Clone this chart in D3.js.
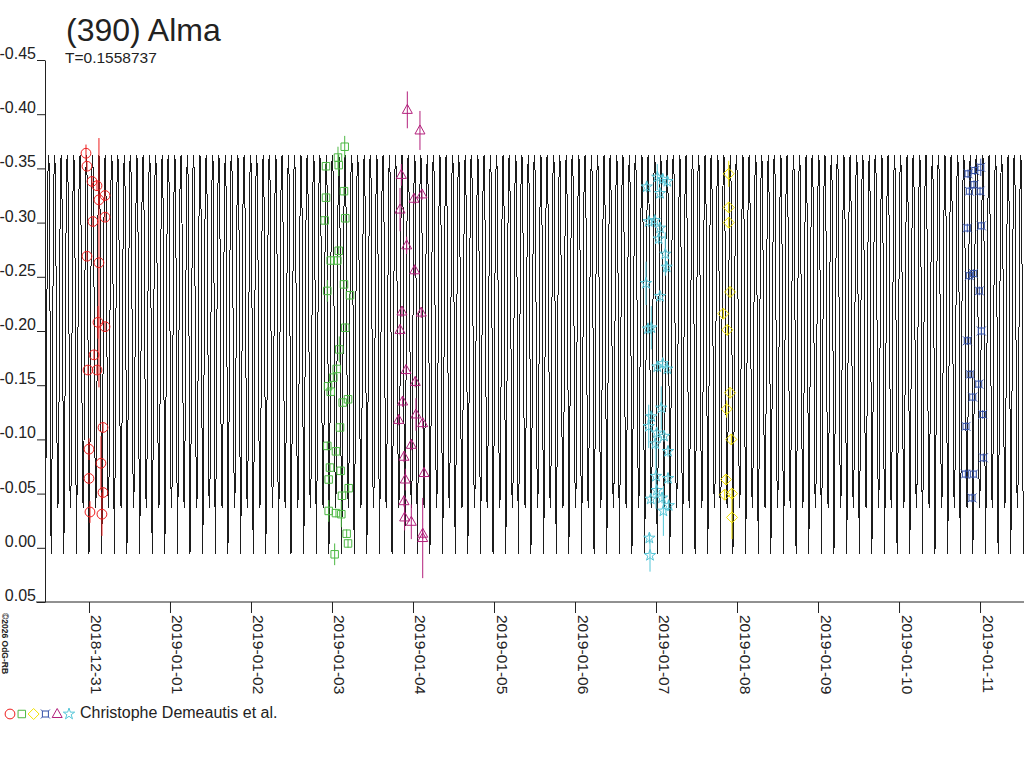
<!DOCTYPE html>
<html>
<head>
<meta charset="utf-8">
<script src="https://cdn.jsdelivr.net/npm/d3@7"></script>
<style>
  body { margin: 0; background: #fff; }
  svg { display: block; font-family: "Liberation Sans", Arial, sans-serif; }
</style>
</head>
<body>
<div class="chart"></div>
<script>
// (390) Alma lightcurve, times are days after 2018-12-31 00:00 UT
const title = "(390) Alma";
const observer = "Christophe Demeautis et al.";
const period = 0.1558737;

// one period of the fitted curve (relative mag), evenly spaced in phase
const profile = [0.006, -0.03, -0.10, -0.19, -0.27, -0.33, -0.358, -0.362, -0.345, -0.29, -0.20, -0.11,
    -0.05, -0.037, -0.06, -0.13, -0.22, -0.30, -0.345, -0.362, -0.355, -0.31, -0.21, -0.09];

const yTicks = [-0.45, -0.40, -0.35, -0.30, -0.25, -0.20, -0.15, -0.10, -0.05, 0.00, 0.05];

// session 1 (red circles)
const redT = [-0.037, -0.025, 0.037, 0.099, 0.198, 0.123, 0.049, 0.198, -0.025, 0.123, 0.111, 0.198,
    0.062, -0.012, 0.099, 0.173, 0.000, 0.148, 0.000, 0.173, 0.012, 0.160];
const redMag = [-0.364, -0.352, -0.338, -0.334, -0.325, -0.321, -0.301, -0.305, -0.269, -0.263, -0.208, -0.204,
    -0.178, -0.164, -0.164, -0.111, -0.091, -0.078, -0.064, -0.051, -0.033, -0.031];
const redErr = [0.008, 0.004, 0.004, 0.004, 0.004, 0.004, 0.004, 0.004, 0.004, 0.115, 0.015, 0.004,
    0.004, 0.004, 0.004, 0.004, 0.010, 0.025, 0.004, 0.004, 0.010, 0.020];

// session 2 (green squares)
const greenT = [3.157, 3.074, 2.926, 3.083, 3.148, 2.926, 3.164, 2.910, 3.083, 2.984, 3.065, 3.148,
    2.942, 3.222, 3.164, 3.090, 3.058, 3.016, 2.951, 2.984, 3.132, 3.198, 3.099, 2.942,
    3.049, 2.975, 3.107, 2.959, 3.206, 3.123, 2.959, 3.049, 3.115, 3.181, 3.198, 3.033];
const greenMag = [-0.370, -0.360, -0.352, -0.353, -0.329, -0.323, -0.304, -0.302, -0.274, -0.265, -0.265, -0.243,
    -0.237, -0.233, -0.203, -0.183, -0.165, -0.157, -0.149, -0.144, -0.134, -0.137, -0.111, -0.094,
    -0.089, -0.074, -0.071, -0.063, -0.055, -0.048, -0.034, -0.032, -0.031, -0.013, -0.004, 0.006];
const greenErr = [0.010, 0.010, 0.004, 0.010, 0.004, 0.004, 0.004, 0.004, 0.004, 0.004, 0.004, 0.004,
    0.010, 0.004, 0.004, 0.012, 0.004, 0.004, 0.004, 0.004, 0.004, 0.004, 0.004, 0.004,
    0.004, 0.004, 0.004, 0.004, 0.004, 0.004, 0.010, 0.004, 0.012, 0.004, 0.004, 0.010];

// session 3 (magenta triangles)
const magentaT = [3.930, 4.086, 3.856, 3.840, 4.012, 4.111, 3.922, 4.021, 3.864, 4.102, 3.840, 3.914,
    4.028, 3.872, 4.037, 3.823, 4.120, 3.979, 3.889, 4.136, 3.905, 3.889, 3.897, 3.979, 4.120, 4.120];
const magentaMag = [-0.404, -0.385, -0.344, -0.312, -0.322, -0.326, -0.279, -0.256, -0.218, -0.217, -0.201, -0.164,
    -0.153, -0.135, -0.123, -0.118, -0.115, -0.095, -0.084, -0.069, -0.063, -0.043, -0.028, -0.024, -0.013, -0.009];
const magentaErr = [0.017, 0.018, 0.010, 0.020, 0.005, 0.005, 0.008, 0.005, 0.005, 0.005, 0.005, 0.005,
    0.005, 0.005, 0.015, 0.005, 0.005, 0.005, 0.005, 0.005, 0.010, 0.005, 0.012, 0.016, 0.005, 0.037];

// session 4 (cyan stars)
const cyanT = [6.885, 7.016, 7.083, 7.140, 7.049, 6.910, 6.984, 7.049, 7.033, 7.115, 7.132, 6.877,
    7.049, 6.901, 6.942, 7.016, 7.083, 7.140, 7.065, 6.942, 6.910, 7.009, 7.099, 6.991,
    7.148, 7.000, 7.148, 7.009, 6.935, 7.074, 7.091, 7.157, 6.918, 6.926];
const cyanMag = [-0.333, -0.342, -0.340, -0.338, -0.327, -0.301, -0.302, -0.295, -0.285, -0.271, -0.259, -0.244,
    -0.232, -0.202, -0.203, -0.167, -0.170, -0.165, -0.129, -0.121, -0.112, -0.106, -0.103, -0.096,
    -0.089, -0.066, -0.064, -0.053, -0.045, -0.046, -0.034, -0.039, -0.009, 0.007];
const cyanErr = [0.005, 0.012, 0.005, 0.005, 0.005, 0.005, 0.005, 0.005, 0.005, 0.020, 0.005, 0.020,
    0.005, 0.005, 0.020, 0.005, 0.005, 0.005, 0.020, 0.005, 0.020, 0.005, 0.005, 0.005,
    0.005, 0.030, 0.005, 0.005, 0.005, 0.005, 0.023, 0.005, 0.005, 0.015];

// session 5 (yellow diamonds)
const yellowT = [7.898, 7.898, 7.898, 7.914, 7.831, 7.880, 7.914, 7.873, 7.930, 7.864, 7.848, 7.938, 7.938];
const yellowMag = [-0.345, -0.314, -0.300, -0.236, -0.216, -0.201, -0.143, -0.128, -0.100, -0.063, -0.049, -0.050, -0.028];
const yellowErr = [0.012, 0.005, 0.005, 0.005, 0.005, 0.005, 0.005, 0.008, 0.005, 0.005, 0.005, 0.005, 0.020];

// session 6 (blue)
const blueT = [10.852, 10.935, 11.009, 10.868, 10.926, 11.000, 10.843, 11.016, 10.868, 10.917, 10.991,
    11.016, 10.843, 10.877, 10.984, 10.910, 11.033, 10.827, 11.041, 10.819, 10.917, 10.901];
const blueMag = [-0.345, -0.348, -0.351, -0.329, -0.335, -0.329, -0.295, -0.297, -0.251, -0.253, -0.237,
    -0.200, -0.191, -0.160, -0.151, -0.139, -0.123, -0.112, -0.083, -0.068, -0.068, -0.046];
const blueErr = [0.004, 0.004, 0.008, 0.004, 0.004, 0.004, 0.004, 0.004, 0.004, 0.004, 0.004,
    0.004, 0.004, 0.004, 0.004, 0.004, 0.004, 0.004, 0.004, 0.004, 0.004, 0.004];

// custom outline symbols
const diamond = {
    draw(ctx) {
        ctx.moveTo(0, -5.5); ctx.lineTo(5.5, 0); ctx.lineTo(0, 5.5); ctx.lineTo(-5.5, 0); ctx.closePath();
    }
};
const boxCross = {
    draw(ctx) {
        ctx.moveTo(-3, -3); ctx.lineTo(3, -3); ctx.lineTo(3, 3); ctx.lineTo(-3, 3); ctx.closePath();
        ctx.moveTo(-3, -3); ctx.lineTo(-4.5, -4.5);
        ctx.moveTo(3, -3); ctx.lineTo(4.5, -4.5);
        ctx.moveTo(3, 3); ctx.lineTo(4.5, 4.5);
        ctx.moveTo(-3, 3); ctx.lineTo(-4.5, 4.5);
    }
};
const triangle = {
    draw(ctx) {
        ctx.moveTo(0, -5.5); ctx.lineTo(5, 3.5); ctx.lineTo(-5, 3.5); ctx.closePath();
    }
};

// order = legend order
const series = [
    { t: redT, mag: redMag, err: redErr, color: "#ee1d1d", type: d3.symbolCircle, size: 75 },
    { t: greenT, mag: greenMag, err: greenErr, color: "#4cb843", type: d3.symbolSquare, size: 56 },
    { t: yellowT, mag: yellowMag, err: yellowErr, color: "#f2e200", type: diamond, size: 64 },
    { t: blueT, mag: blueMag, err: blueErr, color: "#3350a8", type: boxCross, size: 64 },
    { t: magentaT, mag: magentaMag, err: magentaErr, color: "#b3207c", type: triangle, size: 64 },
    { t: cyanT, mag: cyanMag, err: cyanErr, color: "#55c6d8", type: d3.symbolStar, size: 40 }
];

const width = 1024, height = 768;
const day0 = Date.UTC(2018, 11, 31);
const toDate = t => new Date(day0 + t * 864e5);

const x = d3.scaleUtc()
    .domain([toDate(-0.543), toDate(11.617)])
    .range([45, 1030]);

// magnitudes: brighter (more negative) on top
const y = d3.scaleLinear()
    .domain([-0.45, 0.05])
    .range([60, 602]);

const svg = d3.select(".chart")
    .append("svg")
    .attr("width", width)
    .attr("height", height);

svg.append("rect").attr("width", width).attr("height", height).attr("fill", "#fff");

svg.append("clipPath").attr("id", "plot")
    .append("rect")
    .attr("x", x.range()[0]).attr("y", 0)
    .attr("width", width - x.range()[0]).attr("height", y.range()[1]);

// model curve: the one-period profile repeated every T
const kStart = Math.floor(-0.6 / period), kEnd = Math.ceil(11.7 / period);
const curve = [];
for (let k = kStart; k <= kEnd; k++) {
    profile.forEach((m, i) => curve.push([(k + i / profile.length) * period, m]));
}

svg.append("path")
    .datum(curve)
    .attr("clip-path", "url(#plot)")
    .attr("fill", "none")
    .attr("stroke", "#1c1c1c")
    .attr("stroke-width", 1)
    .attr("shape-rendering", "crispEdges")
    .attr("d", d3.line().x(d => x(toDate(d[0]))).y(d => y(d[1])));

// error bars then symbols
series.forEach(s => {
    const pts = d3.zip(s.t, s.mag, s.err);
    const g = svg.append("g");
    g.selectAll("line")
        .data(pts)
        .join("line")
        .attr("x1", d => x(toDate(d[0])))
        .attr("x2", d => x(toDate(d[0])))
        .attr("y1", d => y(d[1] - d[2]))
        .attr("y2", d => y(d[1] + d[2]))
        .attr("stroke", s.color)
        .attr("stroke-width", 1);
    g.selectAll("path")
        .data(pts)
        .join("path")
        .attr("d", d3.symbol().type(s.type).size(s.size))
        .attr("transform", d => `translate(${x(toDate(d[0]))},${y(d[1])})`)
        .attr("fill", "none")
        .attr("stroke", s.color)
        .attr("stroke-width", 1);
});

// axes
const fmt = d => d3.format(".2f")(d).replace("\u2212", "-");

const gy = svg.append("g")
    .attr("transform", `translate(${x.range()[0]},0)`)
    .call(d3.axisLeft(y).tickValues(yTicks).tickFormat(fmt).tickSize(8).tickSizeOuter(0));
gy.selectAll("path, line").attr("stroke", "#222");
gy.selectAll("text")
    .attr("x", -9)
    .attr("dy", "-1.5")
    .attr("fill", "#222")
    .style("font-size", "16px")
    .style("font-family", "Liberation Sans, Arial, sans-serif");

const gx = svg.append("g")
    .attr("transform", `translate(0,${y.range()[1]})`)
    .call(d3.axisBottom(x)
        .ticks(d3.utcDay.every(1))
        .tickFormat(d3.utcFormat("%Y-%m-%d"))
        .tickSize(11)
        .tickSizeOuter(0));
gx.select(".domain").remove();
gx.selectAll("line").attr("stroke", "#222");
gx.selectAll("text")
    .attr("x", 0).attr("y", 0).attr("dy", 0)
    .attr("transform", "translate(2,13) rotate(90)")
    .attr("fill", "#222")
    .style("text-anchor", "start")
    .style("font-size", "15.5px")
    .style("font-family", "Liberation Sans, Arial, sans-serif");
gx.append("line")
    .attr("x1", 36).attr("x2", width)
    .attr("stroke", "#222");

// titles
svg.append("text")
    .attr("x", 66).attr("y", 41)
    .attr("fill", "#222")
    .style("font-size", "32px")
    .text(title);

svg.append("text")
    .attr("x", 65).attr("y", 63)
    .attr("fill", "#222")
    .style("font-size", "15.5px")
    .text(`T=${period}`);

svg.append("text")
    .attr("transform", "translate(2,613) rotate(90)")
    .attr("fill", "#222")
    .style("font-size", "8.5px")
    .style("font-weight", "bold")
    .text("\u00a92026 OdG-RB");

// legend
const legend = svg.append("g").attr("transform", "translate(10,714)");
legend.selectAll("path")
    .data(series)
    .join("path")
    .attr("d", s => d3.symbol().type(s.type).size(s.size)())
    .attr("transform", (s, i) => `translate(${i * 11.8},0)`)
    .attr("fill", "none")
    .attr("stroke", s => s.color);

legend.append("text")
    .attr("x", 70).attr("y", 4)
    .attr("fill", "#222")
    .style("font-size", "16px")
    .text(observer);
</script>
</body>
</html>
